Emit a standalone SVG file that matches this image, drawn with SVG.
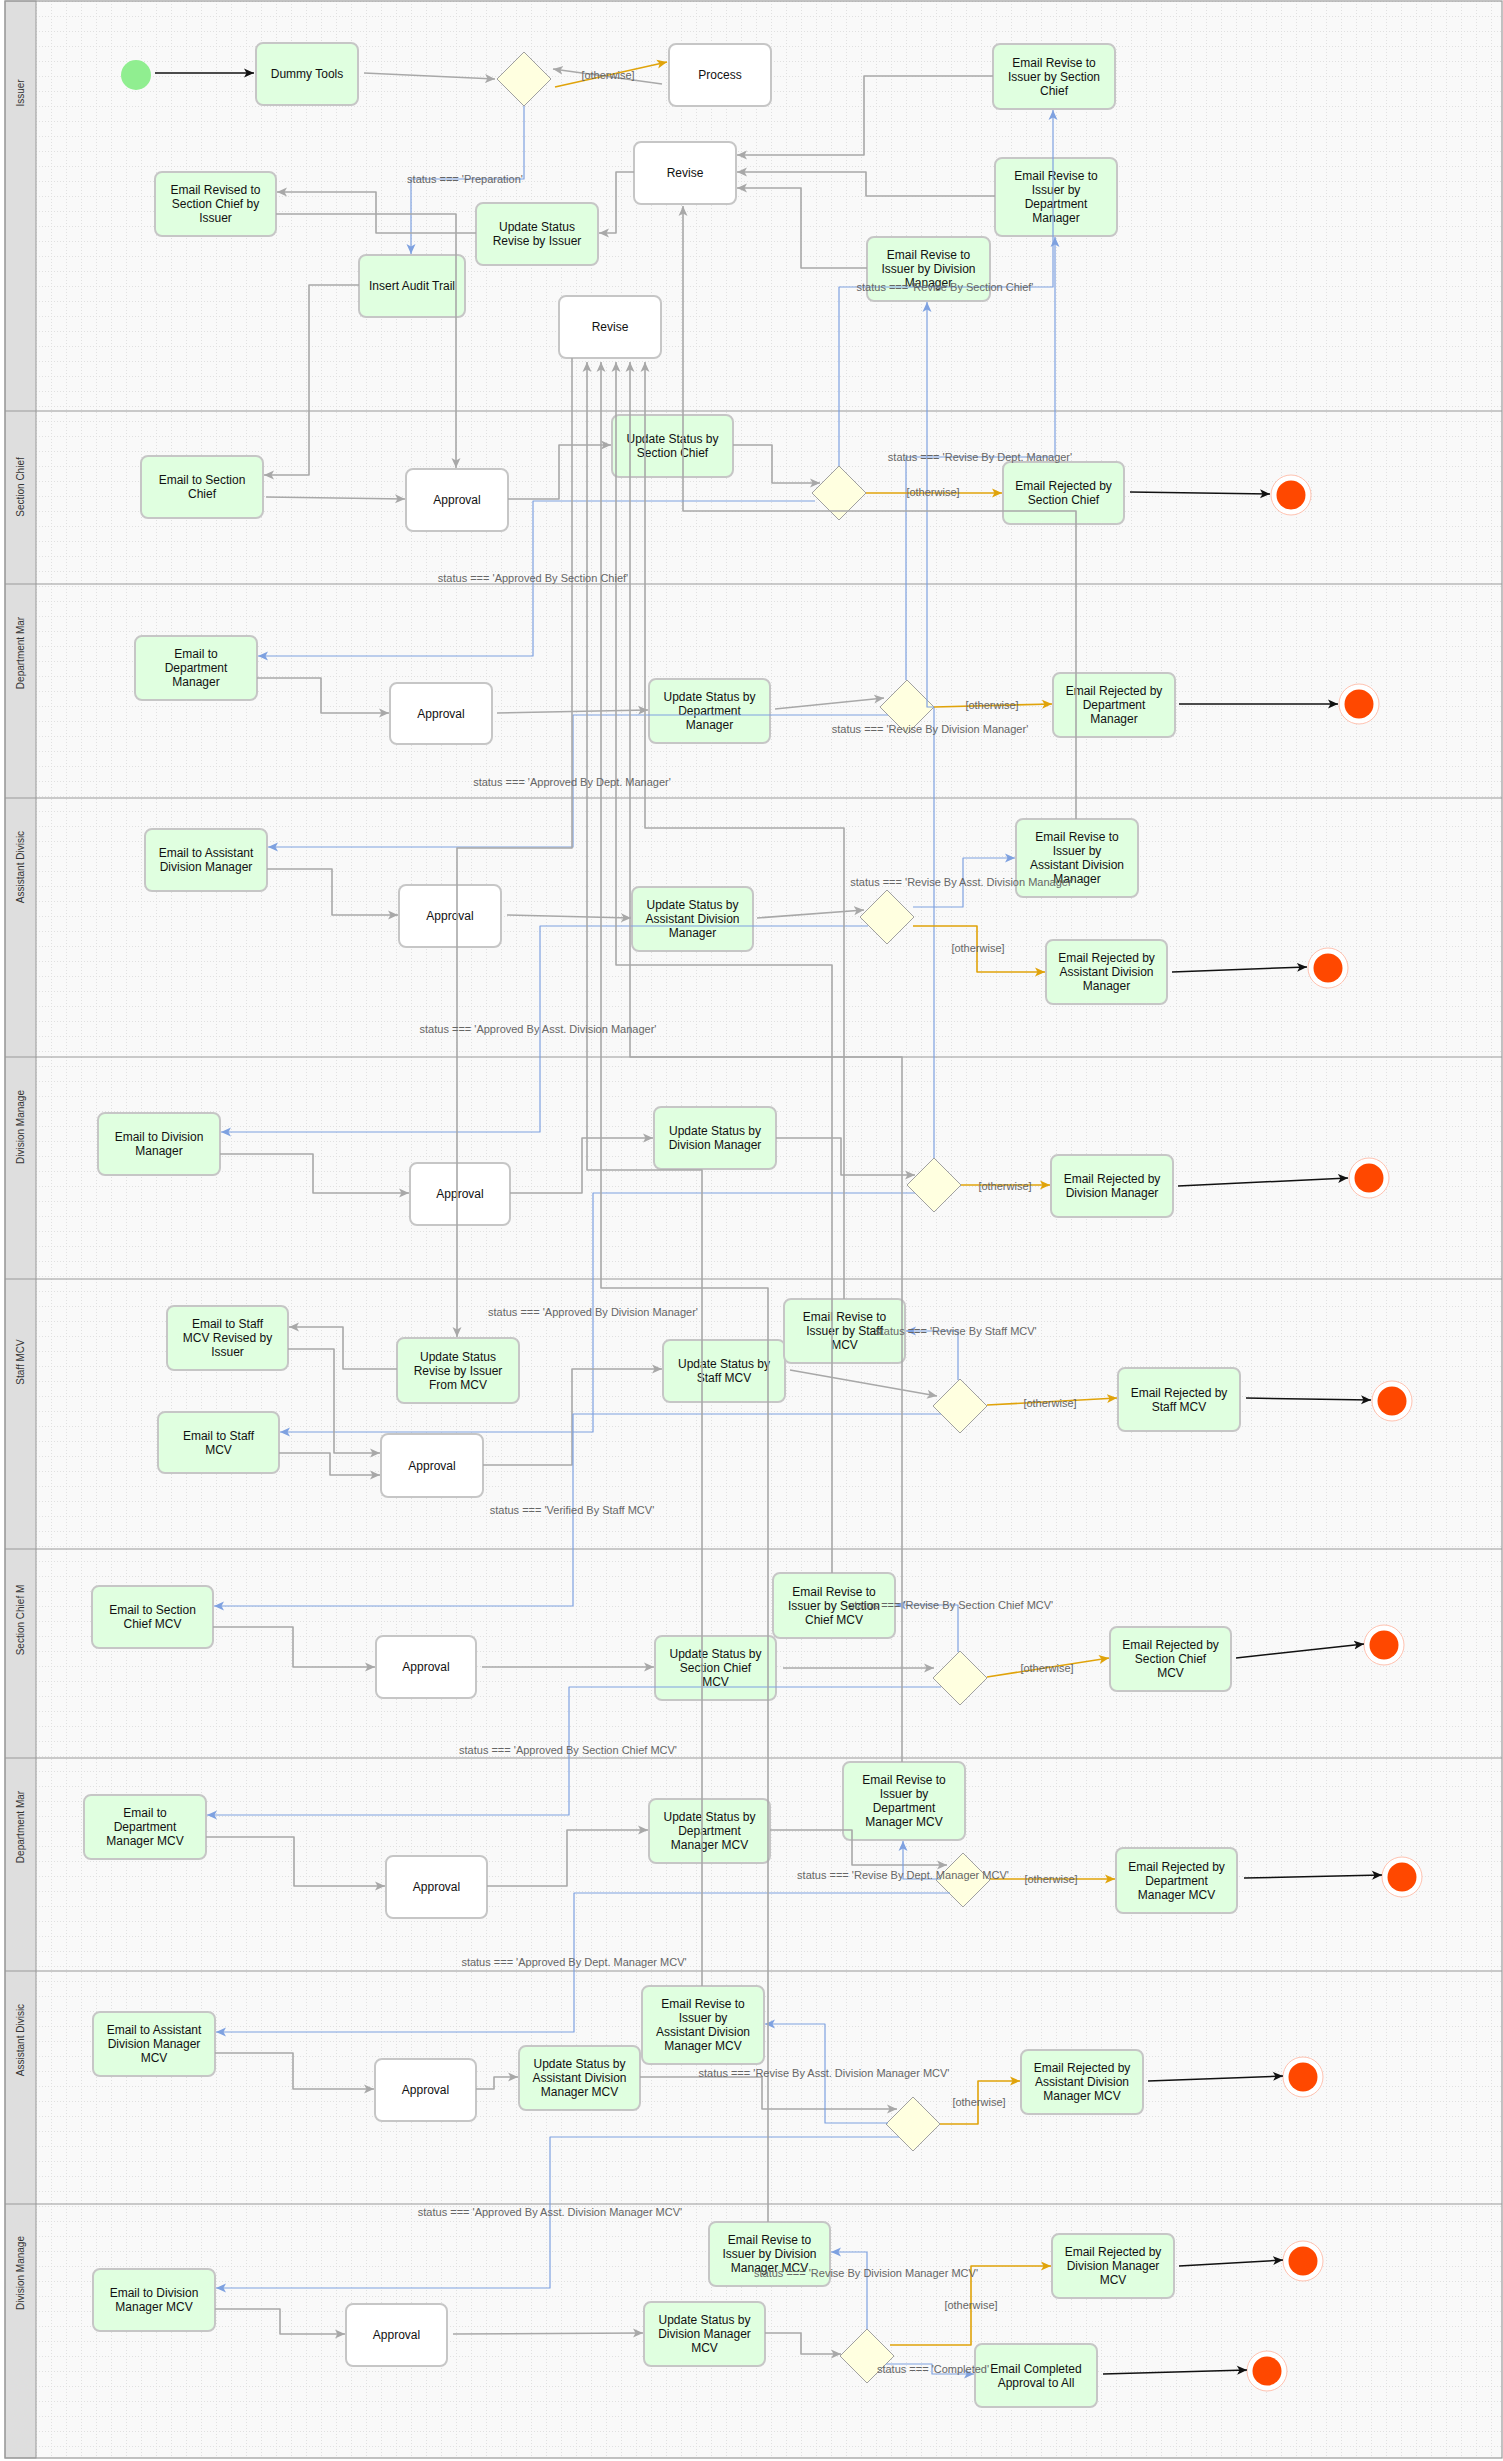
<svg xmlns="http://www.w3.org/2000/svg" width="1503" height="2461" viewBox="0 0 1503 2461">
<style>
.hdr{fill:#dedede;stroke:#9a9a9a;stroke-width:1}
.sep{stroke:#9a9a9a;stroke-width:1.2}
.g{fill:#e0ffe0;stroke:#c6c6c6;stroke-width:2}
.w{fill:#ffffff;stroke:#c6c6c6;stroke-width:2}
.dia{fill:#ffffe0;stroke:#a0a0a0;stroke-width:1}
.t{font-family:"Liberation Sans",Arial,sans-serif;font-size:12px;fill:#111;text-anchor:middle}
.lbl{font-family:"Liberation Sans",Arial,sans-serif;font-size:11px;fill:#666;text-anchor:middle}
.ln{font-family:"Liberation Sans",Arial,sans-serif;font-size:10px;fill:#333;text-anchor:middle}
.cg{fill:none;stroke:#a8a8a8;stroke-width:1.6;stroke-linejoin:round;marker-end:url(#ag)}
.cb{fill:none;stroke:#7ea1e0;stroke-width:1.2;stroke-linejoin:round;marker-end:url(#ab)}
.co{fill:none;stroke:#e0a30a;stroke-width:1.6;stroke-linejoin:round;marker-end:url(#ao)}
.ck{fill:none;stroke:#111;stroke-width:1.5;marker-end:url(#ak)}
.endo{fill:#ffffff;stroke:#ffc2b0;stroke-width:1}
.endi{fill:#ff4800}
</style>
<defs>
<pattern id="grid" width="15" height="15" patternUnits="userSpaceOnUse" x="36" y="1">
<path d="M0,0.5H15M0.5,0V15" stroke="#e0e0e0" stroke-width="1" stroke-dasharray="1,2" fill="none"/>
</pattern>
<marker id="ag" viewBox="0 0 10 10" refX="10" refY="5" markerWidth="10" markerHeight="10" markerUnits="userSpaceOnUse" orient="auto"><path d="M0,0.5 L10,5 L0,9.5 L2.5,5 z" fill="#a8a8a8"/></marker>
<marker id="ab" viewBox="0 0 10 10" refX="10" refY="5" markerWidth="10" markerHeight="10" markerUnits="userSpaceOnUse" orient="auto"><path d="M0,0.5 L10,5 L0,9.5 L2.5,5 z" fill="#7ea1e0"/></marker>
<marker id="ao" viewBox="0 0 10 10" refX="10" refY="5" markerWidth="10" markerHeight="10" markerUnits="userSpaceOnUse" orient="auto"><path d="M0,0.5 L10,5 L0,9.5 L2.5,5 z" fill="#e0a30a"/></marker>
<marker id="ak" viewBox="0 0 10 10" refX="10" refY="5" markerWidth="10" markerHeight="10" markerUnits="userSpaceOnUse" orient="auto"><path d="M0,0.5 L10,5 L0,9.5 L2.5,5 z" fill="#111"/></marker>
</defs>
<rect x="0" y="0" width="1503" height="2461" fill="#ffffff"/>
<g id="lanes">
<rect x="36" y="1" width="1466" height="2457" fill="#f9f9f9"/>
<rect x="36" y="1" width="1466" height="2457" fill="url(#grid)"/>
<rect class="hdr" x="5" y="1" width="31" height="2457"/>
<rect x="5" y="1" width="1497" height="2457" fill="none" stroke="#9a9a9a" stroke-width="1.2"/>
<line class="sep" x1="5" y1="411" x2="1502" y2="411"/>
<line class="sep" x1="5" y1="584" x2="1502" y2="584"/>
<line class="sep" x1="5" y1="798" x2="1502" y2="798"/>
<line class="sep" x1="5" y1="1057" x2="1502" y2="1057"/>
<line class="sep" x1="5" y1="1279" x2="1502" y2="1279"/>
<line class="sep" x1="5" y1="1549" x2="1502" y2="1549"/>
<line class="sep" x1="5" y1="1758" x2="1502" y2="1758"/>
<line class="sep" x1="5" y1="1971" x2="1502" y2="1971"/>
<line class="sep" x1="5" y1="2204" x2="1502" y2="2204"/>
<text class="ln" transform="translate(24,93) rotate(-90)">Issuer</text>
<text class="ln" transform="translate(24,487) rotate(-90)">Section Chief</text>
<text class="ln" transform="translate(24,653) rotate(-90)">Department Mar</text>
<text class="ln" transform="translate(24,867) rotate(-90)">Assistant Divisic</text>
<text class="ln" transform="translate(24,1127) rotate(-90)">Division Manage</text>
<text class="ln" transform="translate(24,1362) rotate(-90)">Staff MCV</text>
<text class="ln" transform="translate(24,1620) rotate(-90)">Section Chief M</text>
<text class="ln" transform="translate(24,1827) rotate(-90)">Department Mar</text>
<text class="ln" transform="translate(24,2040) rotate(-90)">Assistant Divisic</text>
<text class="ln" transform="translate(24,2273) rotate(-90)">Division Manage</text>
</g>
<g id="nodes">
<g id="start"><circle cx="136" cy="75" r="15" fill="#90ee90"/></g>
<g id="dummy-tools"><rect class="g" x="256" y="43" width="102" height="62" rx="7"/><text class="t" x="307" y="78">Dummy Tools</text></g>
<g id="decision-issuer"><polygon class="dia" points="524,52 551,79 524,106 497,79"/></g>
<g id="process"><rect class="w" x="669" y="44" width="102" height="62" rx="7"/><text class="t" x="720" y="79">Process</text></g>
<g id="email-revised-sc-issuer"><rect class="g" x="155" y="172" width="121" height="64" rx="7"/><text class="t"><tspan x="215.5" y="194">Email Revised to</tspan><tspan x="215.5" y="208">Section Chief by</tspan><tspan x="215.5" y="222">Issuer</tspan></text></g>
<g id="update-revise-issuer"><rect class="g" x="476" y="203" width="122" height="62" rx="7"/><text class="t"><tspan x="537" y="231">Update Status</tspan><tspan x="537" y="245">Revise by Issuer</tspan></text></g>
<g id="revise-1"><rect class="w" x="634" y="142" width="102" height="62" rx="7"/><text class="t" x="685" y="177">Revise</text></g>
<g id="insert-audit-trail"><rect class="g" x="359" y="255" width="106" height="62" rx="7"/><text class="t" x="412" y="290">Insert Audit Trail</text></g>
<g id="revise-2"><rect class="w" x="559" y="296" width="102" height="62" rx="7"/><text class="t" x="610" y="331">Revise</text></g>
<g id="eri-sc"><rect class="g" x="993" y="44" width="122" height="65" rx="7"/><text class="t"><tspan x="1054" y="66.5">Email Revise to</tspan><tspan x="1054" y="80.5">Issuer by Section</tspan><tspan x="1054" y="94.5">Chief</tspan></text></g>
<g id="eri-dm"><rect class="g" x="995" y="158" width="122" height="78" rx="7"/><text class="t"><tspan x="1056" y="180">Email Revise to</tspan><tspan x="1056" y="194">Issuer by</tspan><tspan x="1056" y="208">Department</tspan><tspan x="1056" y="222">Manager</tspan></text></g>
<g id="eri-divm"><rect class="g" x="867" y="237" width="123" height="64" rx="7"/><text class="t"><tspan x="928.5" y="259">Email Revise to</tspan><tspan x="928.5" y="273">Issuer by Division</tspan><tspan x="928.5" y="287">Manager</tspan></text></g>

<g id="email-sc"><rect class="g" x="141" y="456" width="122" height="62" rx="7"/><text class="t"><tspan x="202" y="484">Email to Section</tspan><tspan x="202" y="498">Chief</tspan></text></g>
<g id="approval-sc"><rect class="w" x="406" y="469" width="102" height="62" rx="7"/><text class="t" x="457" y="504">Approval</text></g>
<g id="update-sc"><rect class="g" x="612" y="415" width="121" height="62" rx="7"/><text class="t"><tspan x="672.5" y="443">Update Status by</tspan><tspan x="672.5" y="457">Section Chief</tspan></text></g>
<g id="decision-sc"><polygon class="dia" points="839,466 866,493 839,520 812,493"/></g>
<g id="rejected-sc"><rect class="g" x="1003" y="462" width="121" height="62" rx="7"/><text class="t"><tspan x="1063.5" y="490">Email Rejected by</tspan><tspan x="1063.5" y="504">Section Chief</tspan></text></g>
<g id="end-sc"><circle class="endo" cx="1291" cy="495" r="20"/><circle class="endi" cx="1291" cy="495" r="14.5"/></g>

<g id="email-dm"><rect class="g" x="135" y="636" width="122" height="64" rx="7"/><text class="t"><tspan x="196" y="658">Email to</tspan><tspan x="196" y="672">Department</tspan><tspan x="196" y="686">Manager</tspan></text></g>
<g id="approval-dm"><rect class="w" x="390" y="683" width="102" height="61" rx="7"/><text class="t" x="441" y="717.5">Approval</text></g>
<g id="update-dm"><rect class="g" x="649" y="679" width="121" height="64" rx="7"/><text class="t"><tspan x="709.5" y="701">Update Status by</tspan><tspan x="709.5" y="715">Department</tspan><tspan x="709.5" y="729">Manager</tspan></text></g>
<g id="decision-dm"><polygon class="dia" points="907,680 934,707 907,734 880,707"/></g>
<g id="rejected-dm"><rect class="g" x="1053" y="673" width="122" height="64" rx="7"/><text class="t"><tspan x="1114" y="695">Email Rejected by</tspan><tspan x="1114" y="709">Department</tspan><tspan x="1114" y="723">Manager</tspan></text></g>
<g id="end-dm"><circle class="endo" cx="1359" cy="704" r="20"/><circle class="endi" cx="1359" cy="704" r="14.5"/></g>

<g id="email-adm"><rect class="g" x="145" y="829" width="122" height="62" rx="7"/><text class="t"><tspan x="206" y="857">Email to Assistant</tspan><tspan x="206" y="871">Division Manager</tspan></text></g>
<g id="approval-adm"><rect class="w" x="399" y="885" width="102" height="62" rx="7"/><text class="t" x="450" y="920">Approval</text></g>
<g id="update-adm"><rect class="g" x="632" y="887" width="121" height="64" rx="7"/><text class="t"><tspan x="692.5" y="909">Update Status by</tspan><tspan x="692.5" y="923">Assistant Division</tspan><tspan x="692.5" y="937">Manager</tspan></text></g>
<g id="decision-adm"><polygon class="dia" points="887,890 914,917 887,944 860,917"/></g>
<g id="eri-adm"><rect class="g" x="1016" y="819" width="122" height="78" rx="7"/><text class="t"><tspan x="1077" y="841">Email Revise to</tspan><tspan x="1077" y="855">Issuer by</tspan><tspan x="1077" y="869">Assistant Division</tspan><tspan x="1077" y="883">Manager</tspan></text></g>
<g id="rejected-adm"><rect class="g" x="1046" y="940" width="121" height="64" rx="7"/><text class="t"><tspan x="1106.5" y="962">Email Rejected by</tspan><tspan x="1106.5" y="976">Assistant Division</tspan><tspan x="1106.5" y="990">Manager</tspan></text></g>
<g id="end-adm"><circle class="endo" cx="1328" cy="968" r="20"/><circle class="endi" cx="1328" cy="968" r="14.5"/></g>

<g id="email-divm"><rect class="g" x="98" y="1113" width="122" height="62" rx="7"/><text class="t"><tspan x="159" y="1141">Email to Division</tspan><tspan x="159" y="1155">Manager</tspan></text></g>
<g id="approval-divm"><rect class="w" x="410" y="1163" width="100" height="62" rx="7"/><text class="t" x="460" y="1198">Approval</text></g>
<g id="update-divm"><rect class="g" x="654" y="1107" width="122" height="62" rx="7"/><text class="t"><tspan x="715" y="1135">Update Status by</tspan><tspan x="715" y="1149">Division Manager</tspan></text></g>
<g id="decision-divm"><polygon class="dia" points="934,1158 961,1185 934,1212 907,1185"/></g>
<g id="rejected-divm"><rect class="g" x="1051" y="1155" width="122" height="62" rx="7"/><text class="t"><tspan x="1112" y="1183">Email Rejected by</tspan><tspan x="1112" y="1197">Division Manager</tspan></text></g>
<g id="end-divm"><circle class="endo" cx="1369" cy="1178" r="20"/><circle class="endi" cx="1369" cy="1178" r="14.5"/></g>

<g id="email-staff-revised"><rect class="g" x="167" y="1306" width="121" height="64" rx="7"/><text class="t"><tspan x="227.5" y="1328">Email to Staff</tspan><tspan x="227.5" y="1342">MCV Revised by</tspan><tspan x="227.5" y="1356">Issuer</tspan></text></g>
<g id="update-revise-mcv"><rect class="g" x="397" y="1338" width="122" height="65" rx="7"/><text class="t"><tspan x="458" y="1360.5">Update Status</tspan><tspan x="458" y="1374.5">Revise by Issuer</tspan><tspan x="458" y="1388.5">From MCV</tspan></text></g>
<g id="email-staff"><rect class="g" x="158" y="1412" width="121" height="61" rx="7"/><text class="t"><tspan x="218.5" y="1439.5">Email to Staff</tspan><tspan x="218.5" y="1453.5">MCV</tspan></text></g>
<g id="approval-staff"><rect class="w" x="381" y="1434" width="102" height="63" rx="7"/><text class="t" x="432" y="1469.5">Approval</text></g>
<g id="update-staff"><rect class="g" x="663" y="1340" width="122" height="62" rx="7"/><text class="t"><tspan x="724" y="1368">Update Status by</tspan><tspan x="724" y="1382">Staff MCV</tspan></text></g>
<g id="eri-staff"><rect class="g" x="784" y="1299" width="121" height="64" rx="7"/><text class="t"><tspan x="844.5" y="1321">Email Revise to</tspan><tspan x="844.5" y="1335">Issuer by Staff</tspan><tspan x="844.5" y="1349">MCV</tspan></text></g>
<g id="decision-staff"><polygon class="dia" points="960,1379 987,1406 960,1433 933,1406"/></g>
<g id="rejected-staff"><rect class="g" x="1118" y="1368" width="122" height="63" rx="7"/><text class="t"><tspan x="1179" y="1396.5">Email Rejected by</tspan><tspan x="1179" y="1410.5">Staff MCV</tspan></text></g>
<g id="end-staff"><circle class="endo" cx="1392" cy="1401" r="20"/><circle class="endi" cx="1392" cy="1401" r="14.5"/></g>

<g id="email-scmcv"><rect class="g" x="92" y="1586" width="121" height="62" rx="7"/><text class="t"><tspan x="152.5" y="1614">Email to Section</tspan><tspan x="152.5" y="1628">Chief MCV</tspan></text></g>
<g id="approval-scmcv"><rect class="w" x="376" y="1636" width="100" height="62" rx="7"/><text class="t" x="426" y="1671">Approval</text></g>
<g id="update-scmcv"><rect class="g" x="655" y="1636" width="121" height="64" rx="7"/><text class="t"><tspan x="715.5" y="1658">Update Status by</tspan><tspan x="715.5" y="1672">Section Chief</tspan><tspan x="715.5" y="1686">MCV</tspan></text></g>
<g id="eri-scmcv"><rect class="g" x="773" y="1573" width="122" height="65" rx="7"/><text class="t"><tspan x="834" y="1595.5">Email Revise to</tspan><tspan x="834" y="1609.5">Issuer by Section</tspan><tspan x="834" y="1623.5">Chief MCV</tspan></text></g>
<g id="decision-scmcv"><polygon class="dia" points="960,1651 987,1678 960,1705 933,1678"/></g>
<g id="rejected-scmcv"><rect class="g" x="1110" y="1627" width="121" height="64" rx="7"/><text class="t"><tspan x="1170.5" y="1649">Email Rejected by</tspan><tspan x="1170.5" y="1663">Section Chief</tspan><tspan x="1170.5" y="1677">MCV</tspan></text></g>
<g id="end-scmcv"><circle class="endo" cx="1384" cy="1645" r="20"/><circle class="endi" cx="1384" cy="1645" r="14.5"/></g>

<g id="email-dmmcv"><rect class="g" x="84" y="1795" width="122" height="64" rx="7"/><text class="t"><tspan x="145" y="1817">Email to</tspan><tspan x="145" y="1831">Department</tspan><tspan x="145" y="1845">Manager MCV</tspan></text></g>
<g id="approval-dmmcv"><rect class="w" x="386" y="1856" width="101" height="62" rx="7"/><text class="t" x="436.5" y="1891">Approval</text></g>
<g id="update-dmmcv"><rect class="g" x="649" y="1799" width="121" height="64" rx="7"/><text class="t"><tspan x="709.5" y="1821">Update Status by</tspan><tspan x="709.5" y="1835">Department</tspan><tspan x="709.5" y="1849">Manager MCV</tspan></text></g>
<g id="eri-dmmcv"><rect class="g" x="843" y="1762" width="122" height="78" rx="7"/><text class="t"><tspan x="904" y="1784">Email Revise to</tspan><tspan x="904" y="1798">Issuer by</tspan><tspan x="904" y="1812">Department</tspan><tspan x="904" y="1826">Manager MCV</tspan></text></g>
<g id="decision-dmmcv"><polygon class="dia" points="963,1853 990,1880 963,1907 936,1880"/></g>
<g id="rejected-dmmcv"><rect class="g" x="1116" y="1848" width="121" height="65" rx="7"/><text class="t"><tspan x="1176.5" y="1870.5">Email Rejected by</tspan><tspan x="1176.5" y="1884.5">Department</tspan><tspan x="1176.5" y="1898.5">Manager MCV</tspan></text></g>
<g id="end-dmmcv"><circle class="endo" cx="1402" cy="1877" r="20"/><circle class="endi" cx="1402" cy="1877" r="14.5"/></g>

<g id="email-admmcv"><rect class="g" x="93" y="2012" width="122" height="64" rx="7"/><text class="t"><tspan x="154" y="2034">Email to Assistant</tspan><tspan x="154" y="2048">Division Manager</tspan><tspan x="154" y="2062">MCV</tspan></text></g>
<g id="approval-admmcv"><rect class="w" x="375" y="2059" width="101" height="62" rx="7"/><text class="t" x="425.5" y="2094">Approval</text></g>
<g id="update-admmcv"><rect class="g" x="519" y="2046" width="121" height="64" rx="7"/><text class="t"><tspan x="579.5" y="2068">Update Status by</tspan><tspan x="579.5" y="2082">Assistant Division</tspan><tspan x="579.5" y="2096">Manager MCV</tspan></text></g>
<g id="eri-admmcv"><rect class="g" x="642" y="1986" width="122" height="78" rx="7"/><text class="t"><tspan x="703" y="2008">Email Revise to</tspan><tspan x="703" y="2022">Issuer by</tspan><tspan x="703" y="2036">Assistant Division</tspan><tspan x="703" y="2050">Manager MCV</tspan></text></g>
<g id="decision-admmcv"><polygon class="dia" points="913,2097 940,2124 913,2151 886,2124"/></g>
<g id="rejected-admmcv"><rect class="g" x="1021" y="2050" width="122" height="64" rx="7"/><text class="t"><tspan x="1082" y="2072">Email Rejected by</tspan><tspan x="1082" y="2086">Assistant Division</tspan><tspan x="1082" y="2100">Manager MCV</tspan></text></g>
<g id="end-admmcv"><circle class="endo" cx="1303" cy="2077" r="20"/><circle class="endi" cx="1303" cy="2077" r="14.5"/></g>

<g id="email-divmmcv"><rect class="g" x="93" y="2269" width="122" height="62" rx="7"/><text class="t"><tspan x="154" y="2297">Email to Division</tspan><tspan x="154" y="2311">Manager MCV</tspan></text></g>
<g id="approval-divmmcv"><rect class="w" x="346" y="2304" width="101" height="62" rx="7"/><text class="t" x="396.5" y="2339">Approval</text></g>
<g id="update-divmmcv"><rect class="g" x="644" y="2302" width="121" height="64" rx="7"/><text class="t"><tspan x="704.5" y="2324">Update Status by</tspan><tspan x="704.5" y="2338">Division Manager</tspan><tspan x="704.5" y="2352">MCV</tspan></text></g>
<g id="eri-divmmcv"><rect class="g" x="709" y="2222" width="121" height="64" rx="7"/><text class="t"><tspan x="769.5" y="2244">Email Revise to</tspan><tspan x="769.5" y="2258">Issuer by Division</tspan><tspan x="769.5" y="2272">Manager MCV</tspan></text></g>
<g id="decision-divmmcv"><polygon class="dia" points="867,2329 894,2356 867,2383 840,2356"/></g>
<g id="rejected-divmmcv"><rect class="g" x="1052" y="2234" width="122" height="64" rx="7"/><text class="t"><tspan x="1113" y="2256">Email Rejected by</tspan><tspan x="1113" y="2270">Division Manager</tspan><tspan x="1113" y="2284">MCV</tspan></text></g>
<g id="end-divmmcv"><circle class="endo" cx="1303" cy="2261" r="20"/><circle class="endi" cx="1303" cy="2261" r="14.5"/></g>
<g id="email-completed"><rect class="g" x="975" y="2344" width="122" height="63" rx="7"/><text class="t"><tspan x="1036" y="2372.5">Email Completed</tspan><tspan x="1036" y="2386.5">Approval to All</tspan></text></g>
<g id="end-completed"><circle class="endo" cx="1267" cy="2371" r="20"/><circle class="endi" cx="1267" cy="2371" r="14.5"/></g>
</g>
<g id="connectors">
<path class="ck" d="M155,73 L254,73"/>
<path class="cg" d="M364,73 L495,79"/>
<path class="co" d="M555,87 L667,62"/>
<path class="cg" d="M662,84 L553,69"/>
<path class="cb" d="M524,106 V179 H411 V254"/>
<path class="cg" d="M359,285 H309 V475 H264"/>
<path class="cg" d="M476,233 H376 V192 H277"/>
<path class="cg" d="M634,172 H616 V233 H599"/>
<path class="cg" d="M276,214 H456 V468"/>
<path class="cg" d="M993,76 H864 V155 H737"/>
<path class="cg" d="M995,196 H866 V172 H737"/>
<path class="cg" d="M867,268 H801 V188 H737"/>
<path class="cb" d="M839,466 V287 H1053 V110"/>
<path class="cb" d="M906,680 V457 H1055 V237"/>
<path class="cb" d="M934,1158 V707 H927 V302"/>
<path class="cb" d="M913,907 H963 V858 H1015"/>
<path class="cg" d="M1076,819 V511 H683 V206"/>
<path class="cg" d="M266,497 L405,499"/>
<path class="cg" d="M508,499 H559 V445 H611"/>
<path class="cg" d="M733,445 H772 V483 H820"/>
<path class="co" d="M866,493 H1002"/>
<path class="ck" d="M1130,492 L1270,494"/>
<path class="cb" d="M815,501 H533 V656 H258"/>
<path class="cg" d="M257,678 H321 V713 H389"/>
<path class="cg" d="M497,713 L648,710"/>
<path class="cg" d="M775,709 L884,698"/>
<path class="co" d="M934,707 L1052,704"/>
<path class="ck" d="M1179,704 L1338,704"/>
<path class="cb" d="M888,715 H573 V847 H268"/>
<path class="cg" d="M267,869 H332 V915 H398"/>
<path class="cg" d="M507,915 L631,918"/>
<path class="cg" d="M757,918 L864,910"/>
<path class="co" d="M913,926 H977 V972 H1045"/>
<path class="ck" d="M1172,972 L1307,967"/>
<path class="cb" d="M868,926 H540 V1132 H221"/>
<path class="cg" d="M220,1154 H313 V1193 H409"/>
<path class="cg" d="M510,1193 H582 V1138 H653"/>
<path class="cg" d="M776,1138 H841 V1175 H915"/>
<path class="co" d="M961,1185 L1050,1185"/>
<path class="ck" d="M1178,1186 L1348,1178"/>
<path class="cb" d="M915,1193 H593 V1432 H280"/>
<path class="cg" d="M572,358 V848 H457 V1337"/>
<path class="cg" d="M397,1369 H343 V1327 H289"/>
<path class="cg" d="M288,1349 H334 V1453 H380"/>
<path class="cg" d="M279,1453 H330 V1475 H380"/>
<path class="cg" d="M483,1465 H572 V1369 H662"/>
<path class="cg" d="M790,1370 L937,1396"/>
<path class="cb" d="M958,1380 V1331 H906"/>
<path class="co" d="M987,1405 L1117,1398"/>
<path class="ck" d="M1246,1398 L1371,1400"/>
<path class="cb" d="M941,1414 H573 V1606 H214"/>
<path class="cg" d="M213,1627 H293 V1667 H375"/>
<path class="cg" d="M482,1667 L654,1667"/>
<path class="cg" d="M783,1668 L934,1668"/>
<path class="cb" d="M958,1652 V1605 H896"/>
<path class="co" d="M987,1677 L1109,1658"/>
<path class="ck" d="M1236,1658 L1364,1644"/>
<path class="cb" d="M941,1687 H569 V1815 H207"/>
<path class="cg" d="M206,1837 H294 V1886 H385"/>
<path class="cg" d="M487,1886 H567 V1830 H648"/>
<path class="cg" d="M770,1830 H852 V1865 H947"/>
<path class="cb" d="M941,1879 H903 V1841"/>
<path class="co" d="M990,1879 L1115,1879"/>
<path class="ck" d="M1244,1878 L1382,1875"/>
<path class="cb" d="M950,1893 H574 V2032 H216"/>
<path class="cg" d="M215,2053 H293 V2089 H374"/>
<path class="cg" d="M476,2089 H494 V2077 H518"/>
<path class="cg" d="M640,2077 H762 V2109 H897"/>
<path class="cb" d="M888,2123 H825 V2024 H765"/>
<path class="co" d="M940,2124 H978 V2081 H1020"/>
<path class="ck" d="M1148,2081 L1283,2076"/>
<path class="cb" d="M899,2137 H550 V2288 H216"/>
<path class="cg" d="M215,2309 H280 V2334 H345"/>
<path class="cg" d="M453,2334 L643,2333"/>
<path class="cg" d="M765,2333 H801 V2354 H841"/>
<path class="cb" d="M867,2329 V2252 H831"/>
<path class="co" d="M890,2345 H971 V2266 H1051"/>
<path class="ck" d="M1179,2266 L1283,2260"/>
<path class="cb" d="M886,2364 H932 V2374 H974"/>
<path class="ck" d="M1103,2374 L1247,2370"/>
<path class="cg" d="M844,1299 V828 H645 V362"/>
<path class="cg" d="M832,1573 V965 H616 V362"/>
<path class="cg" d="M902,1762 V1057 H630 V362"/>
<path class="cg" d="M702,1986 V1170 H587 V362"/>
<path class="cg" d="M768,2222 V1288 H601 V362"/>
</g>
<g id="connector-labels">
<text class="lbl" x="465" y="183">status === 'Preparation'</text>
<text class="lbl" x="608" y="79">[otherwise]</text>
<text class="lbl" x="945" y="291">status === 'Revise By Section Chief'</text>
<text class="lbl" x="533" y="582">status === 'Approved By Section Chief'</text>
<text class="lbl" x="980" y="461">status === 'Revise By Dept. Manager'</text>
<text class="lbl" x="933" y="496">[otherwise]</text>
<text class="lbl" x="572" y="786">status === 'Approved By Dept. Manager'</text>
<text class="lbl" x="992" y="709">[otherwise]</text>
<text class="lbl" x="930" y="733">status === 'Revise By Division Manager'</text>
<text class="lbl" x="962" y="886">status === 'Revise By Asst. Division Manager'</text>
<text class="lbl" x="978" y="952">[otherwise]</text>
<text class="lbl" x="538" y="1033">status === 'Approved By Asst. Division Manager'</text>
<text class="lbl" x="1005" y="1190">[otherwise]</text>
<text class="lbl" x="593" y="1316">status === 'Approved By Division Manager'</text>
<text class="lbl" x="956" y="1335">status === 'Revise By Staff MCV'</text>
<text class="lbl" x="1050" y="1407">[otherwise]</text>
<text class="lbl" x="572" y="1514">status === 'Verified By Staff MCV'</text>
<text class="lbl" x="951" y="1609">status === 'Revise By Section Chief MCV'</text>
<text class="lbl" x="1047" y="1672">[otherwise]</text>
<text class="lbl" x="568" y="1754">status === 'Approved By Section Chief MCV'</text>
<text class="lbl" x="903" y="1879">status === 'Revise By Dept. Manager MCV'</text>
<text class="lbl" x="1051" y="1883">[otherwise]</text>
<text class="lbl" x="574" y="1966">status === 'Approved By Dept. Manager MCV'</text>
<text class="lbl" x="824" y="2077">status === 'Revise By Asst. Division Manager MCV'</text>
<text class="lbl" x="979" y="2106">[otherwise]</text>
<text class="lbl" x="550" y="2216">status === 'Approved By Asst. Division Manager MCV'</text>
<text class="lbl" x="866" y="2277">status === 'Revise By Division Manager MCV'</text>
<text class="lbl" x="971" y="2309">[otherwise]</text>
<text class="lbl" x="933" y="2373">status === 'Completed'</text>
</g>
</svg>
